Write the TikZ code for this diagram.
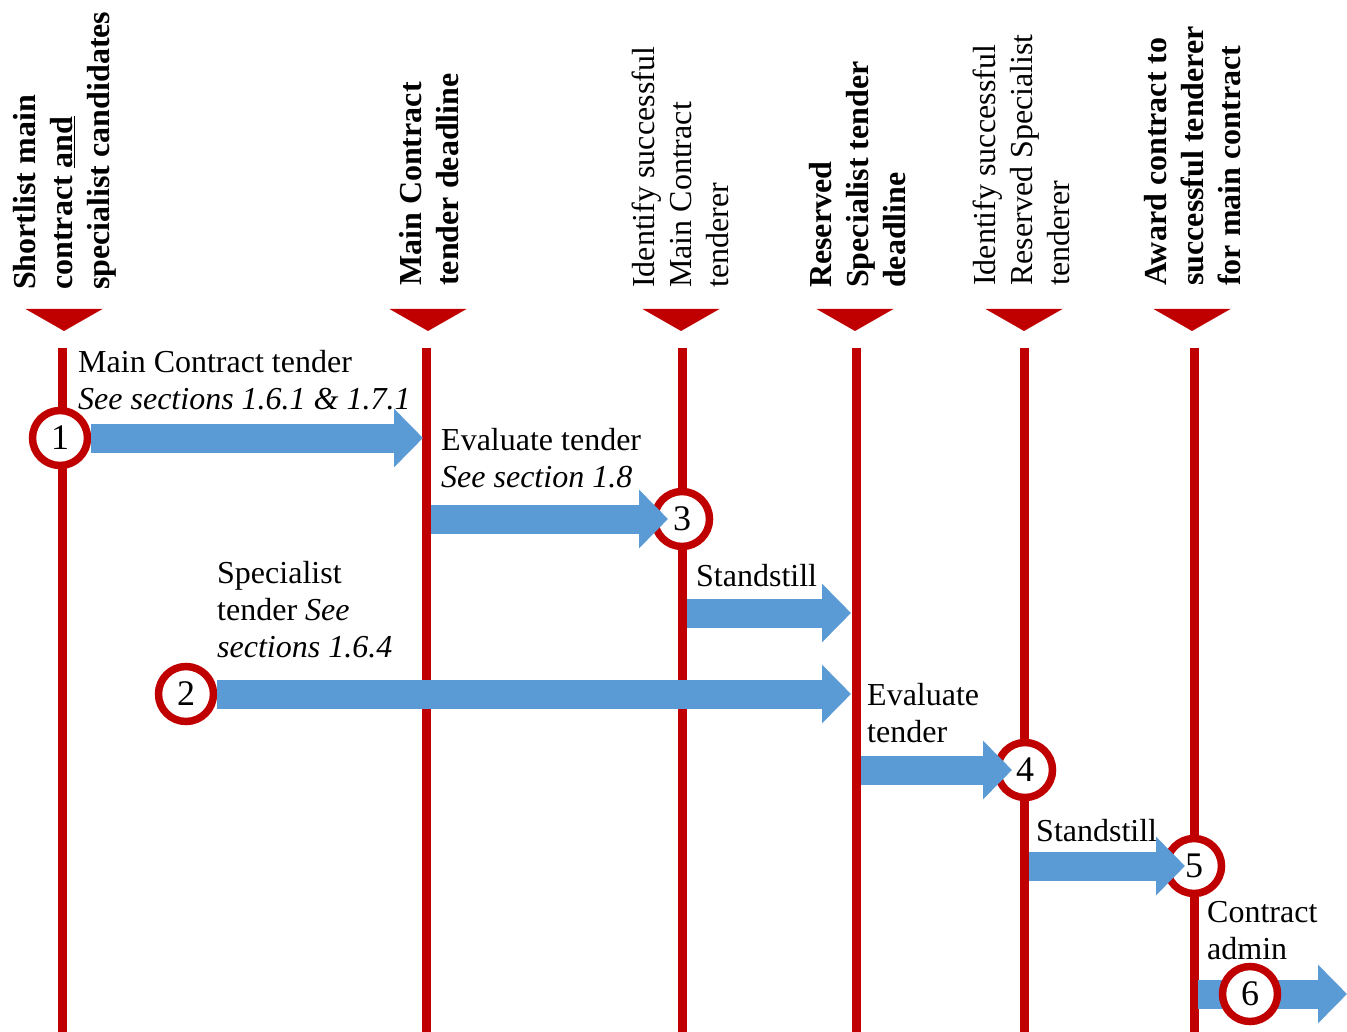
\documentclass[tikz,border=0pt]{standalone}
\usepackage{fontspec}
\setmainfont{Liberation Serif}
\usetikzlibrary{arrows.meta}
\definecolor{tred}{HTML}{C00000}
\definecolor{tblue}{HTML}{5B9BD5}

\begin{document}
\begin{tikzpicture}[x=1pt, y=-1pt,
    every node/.style={font=\fontsize{32}{37}\selectfont, inner sep=0pt},
    stage/.style={circle, draw=tred, line width=7.5pt, fill=white, minimum size=55pt,
        font=\fontsize{36}{40}\selectfont},
    milestone/.style={rotate=90, anchor=west, align=left},
    timeline/.style={draw=tred, line width=9pt},
    marker/.style={fill=tred},
    flow/.style={draw=tblue, line width=29pt, -{Triangle[length=29pt, width=57pt]}},
    note/.style={anchor=base west, align=left}]
    \useasboundingbox (0,0) rectangle (1347,1032);
    % Time lines
    \coordinate (t1) at (62,348);   \coordinate (b1) at (62,1032);
    \coordinate (t2) at (426,348);  \coordinate (b2) at (426,1032);
    \coordinate (t3) at (682,348);  \coordinate (b3) at (682,1032);
    \coordinate (t4) at (856,348);  \coordinate (b4) at (856,1032);
    \coordinate (t5) at (1024,348); \coordinate (b5) at (1024,1032);
    \coordinate (t6) at (1194,348); \coordinate (b6) at (1194,1032);
    \draw[timeline] (t1) -- (b1);
    \draw[timeline] (t2) -- (b2);
    \draw[timeline] (t3) -- (b3);
    \draw[timeline] (t4) -- (b4);
    \draw[timeline] (t5) -- (b5);
    \draw[timeline] (t6) -- (b6);
    \fill[marker] (64,309) ++(-38.5,0) -- ++(77,0) -- ++(-38.5,22) -- cycle;
    \fill[marker] (428,309) ++(-38.5,0) -- ++(77,0) -- ++(-38.5,22) -- cycle;
    \fill[marker] (681,309) ++(-38.5,0) -- ++(77,0) -- ++(-38.5,22) -- cycle;
    \fill[marker] (855,309) ++(-38.5,0) -- ++(77,0) -- ++(-38.5,22) -- cycle;
    \fill[marker] (1024,309) ++(-38.5,0) -- ++(77,0) -- ++(-38.5,22) -- cycle;
    \fill[marker] (1192,309) ++(-38.5,0) -- ++(77,0) -- ++(-38.5,22) -- cycle;
    % Milestones
    \node[milestone](m1) at (65,290) {\bfseries Shortlist main\\\bfseries contract \underline{and}\\\bfseries specialist candidates};
    \node[milestone](m2) at (429,286) {\bfseries Main Contract\\\bfseries tender deadline};
    \node[milestone](m3) at (680,288) {Identify successful\\Main Contract\\tenderer};
    \node[milestone](m4) at (858,288) {\bfseries Reserved\\\bfseries Specialist tender\\\bfseries deadline};
    \node[milestone](m5) at (1021,286) {Identify successful\\Reserved Specialist\\tenderer};
    \node[milestone](m6) at (1193,286) {\bfseries Award contract to\\\bfseries successful tenderer\\\bfseries for main contract};
    % Activities (placed by the baseline of the last line)
    \node[note](lmain)   at (78,409)   {Main Contract tender\\\textit{See sections 1.6.1 \& 1.7.1}};
    \node[note](leval)   at (441,487)  {Evaluate tender\\\textit{See section 1.8}};
    \node[note](lstand)  at (696,586)  {Standstill};
    \node[note](lspec)   at (217,657)  {Specialist\\tender \textit{See}\\\textit{sections 1.6.4}};
    \node[note](levalr)  at (867,742)  {Evaluate\\tender};
    \node[note](lstandr) at (1036,841) {Standstill};
    \node[note](ladmin)  at (1207,959) {Contract\\admin};
    % Stages
    \node[stage](s1) at (60,438)   {1};
    \node[stage](s2) at (186,694)  {2};
    \node[stage](s3) at (682,519)  {3};
    \node[stage](s4) at (1025,770) {4};
    \node[stage](s5) at (1194,866) {5};
    \coordinate (e1) at (423,438);
    \coordinate (f3) at (431,519);  \coordinate (e3) at (668,519);
    \coordinate (f7) at (687,613);  \coordinate (e7) at (851,613);
    \coordinate (e2) at (851,694);
    \coordinate (f4) at (861,770);  \coordinate (e4) at (1012,770);
    \coordinate (f5) at (1029,866); \coordinate (e5) at (1185,866);
    \coordinate (f6) at (1198,994); \coordinate (e6) at (1347,994);
    % Transitions
    \draw[flow] (s1) -- (e1);
    \draw[flow] (f3) -- (e3);
    \draw[flow] (f7) -- (e7);
    \draw[flow] (s2) -- (e2);
    \draw[flow] (f4) -- (e4);
    \draw[flow] (f5) -- (e5);
    \draw[flow] (f6) -- (e6);
    \node[stage](s6) at (1250,994) {6};
\end{tikzpicture}
\end{document}
